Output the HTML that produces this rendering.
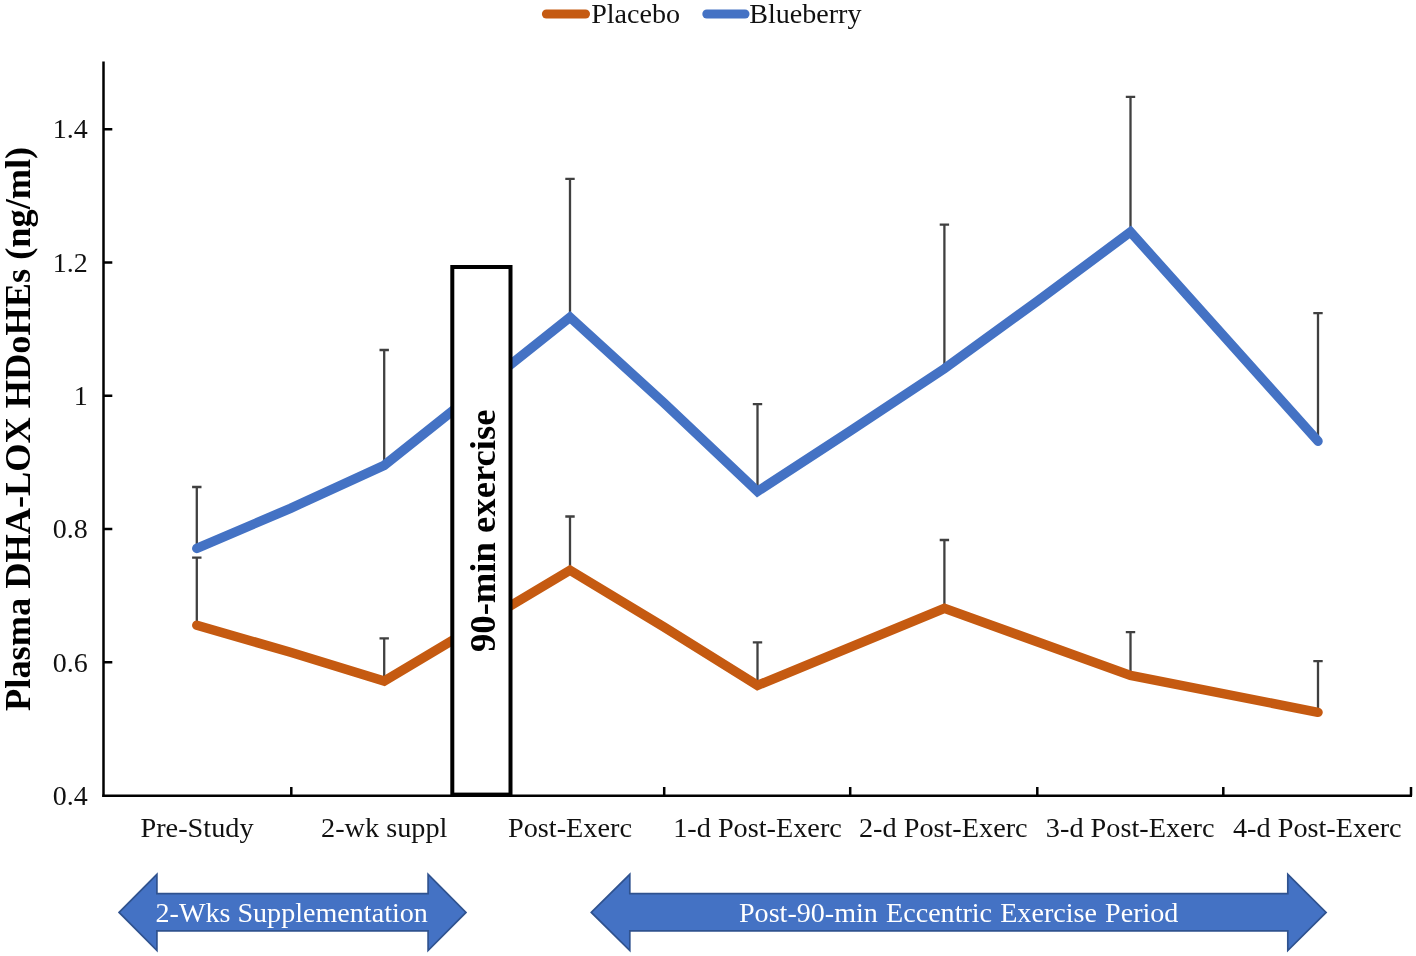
<!DOCTYPE html>
<html>
<head>
<meta charset="utf-8">
<title>Plasma DHA-LOX HDoHEs</title>
<style>
  html, body { margin: 0; padding: 0; background: #ffffff; }
  body { width: 1416px; height: 956px; overflow: hidden; font-family: "Liberation Serif", serif; }
  svg { display: block; will-change: transform; }
  text { font-family: "Liberation Serif", serif; }
</style>
</head>
<body>
<svg width="1416" height="956" viewBox="0 0 1416 956">
  <rect x="0" y="0" width="1416" height="956" fill="#ffffff"/>

  <!-- legend -->
  <g id="legend">
    <line x1="546.4" y1="14" x2="585.5" y2="14" stroke="#C55A11" stroke-width="9" stroke-linecap="round"/>
    <text x="591.2" y="22.8" font-size="28.1" fill="#111">Placebo</text>
    <line x1="706.8" y1="14" x2="745" y2="14" stroke="#4472C4" stroke-width="9" stroke-linecap="round"/>
    <text x="749.2" y="22.8" font-size="28.1" fill="#111">Blueberry</text>
  </g>

  <!-- y axis title -->
  <text transform="translate(30.0,710.9) rotate(-90)" font-size="36.34" font-weight="bold" fill="#000">Plasma DHA-LOX HDoHEs (ng/ml)</text>

  <!-- y tick labels -->
  <g font-size="28" fill="#111" text-anchor="end">
    <text x="87.7" y="138.4">1.4</text>
    <text x="87.7" y="271.7">1.2</text>
    <text x="87.7" y="405">1</text>
    <text x="87.7" y="538.2">0.8</text>
    <text x="87.7" y="671.5">0.6</text>
    <text x="87.7" y="804.8">0.4</text>
  </g>

  <!-- error bars -->
  <g id="errbars" stroke="#404040" stroke-width="2.3" fill="none">
    <!-- blueberry -->
    <path d="M196.8 548 V487 M192.1 487 H201.5"/>
    <path d="M384.2 465 V350 M379.5 350 H388.9"/>
    <path d="M570 317 V178.8 M565.3 178.8 H574.7"/>
    <path d="M757.5 491 V404.2 M752.8 404.2 H762.2"/>
    <path d="M944.4 368 V224.7 M939.7 224.7 H949.1"/>
    <path d="M1130.5 232 V96.9 M1125.8 96.9 H1135.2"/>
    <path d="M1318 440 V313.2 M1313.3 313.2 H1322.7"/>
    <!-- placebo -->
    <path d="M196.8 625 V557.6 M192.1 557.6 H201.5"/>
    <path d="M384.2 681 V638.3 M379.5 638.3 H388.9"/>
    <path d="M570 570 V516.5 M565.3 516.5 H574.7"/>
    <path d="M757.5 685 V642.4 M752.8 642.4 H762.2"/>
    <path d="M944.4 608 V540 M939.7 540 H949.1"/>
    <path d="M1130.5 675 V632.2 M1125.8 632.2 H1135.2"/>
    <path d="M1318 712 V661.2 M1313.3 661.2 H1322.7"/>
  </g>

  <!-- data lines -->
  <polyline fill="none" stroke="#4472C4" stroke-width="9.5" stroke-linecap="round" stroke-linejoin="miter"
    points="196.8,548.4 290.5,508.3 384.2,465.3 570,317.3 663.75,402.7 757.5,491.4 850.95,430.4 944.4,368.6 1037.45,301.1 1130.5,232 1318,441.2"/>
  <polyline fill="none" stroke="#C55A11" stroke-width="9.5" stroke-linecap="round" stroke-linejoin="miter"
    points="196.8,625.2 290.5,652.3 384.2,681.1 570,570.2 663.75,626.9 757.5,685.4 944.4,608.3 1130.5,675.5 1318,712.3"/>

  <!-- axes -->
  <g id="axes" stroke="#000" fill="none">
    <path d="M103.5 61.5 V796.9" stroke-width="2.5"/>
    <path d="M102.3 795.7 H1412" stroke-width="2.4"/>
    <!-- y ticks -->
    <path stroke-width="2.4" d="M103.5 129.2 H112.3 M103.5 262.5 H112.3 M103.5 395.8 H112.3 M103.5 529 H112.3 M103.5 662.3 H112.3"/>
    <!-- x ticks -->
    <path stroke-width="2.5" d="M291.3 795.7 V787 M477.6 795.7 V787 M664.2 795.7 V787 M850.2 795.7 V787 M1037.3 795.7 V787 M1223.3 795.7 V787 M1411 795.7 V787"/>
  </g>

  <!-- exercise box -->
  <rect x="452.3" y="267" width="58.2" height="527.6" fill="#ffffff" stroke="#000" stroke-width="4"/>
  <text transform="translate(494.5,652) rotate(-90)" font-size="36.65" font-weight="bold" fill="#000">90-min exercise</text>

  <!-- x tick labels -->
  <g font-size="28.25" fill="#111" text-anchor="middle">
    <text x="197" y="837.3">Pre-Study</text>
    <text x="384.2" y="837.3">2-wk suppl</text>
    <text x="570" y="837.3">Post-Exerc</text>
    <text x="757.5" y="837.3">1-d Post-Exerc</text>
    <text x="943.3" y="837.3">2-d Post-Exerc</text>
    <text x="1130.2" y="837.3">3-d Post-Exerc</text>
    <text x="1317.3" y="837.3">4-d Post-Exerc</text>
  </g>

  <!-- arrows -->
  <g stroke="#2F528F" stroke-width="1.7" fill="#4472C4" stroke-linejoin="miter">
    <path d="M119.1 912.4 L156.9 874.4 V893.7 H428.1 V874.4 L466 912.4 L428.1 950.5 V930.8 H156.9 V950.5 Z"/>
    <path d="M591.3 912.4 L629.8 874.4 V893.7 H1287.8 V874.4 L1326.1 912.4 L1287.8 950.5 V930.8 H629.8 V950.5 Z"/>
  </g>
  <g font-size="28.1" fill="#ffffff" text-anchor="middle">
    <text x="291.7" y="922.1">2-Wks Supplementation</text>
    <text x="958.7" y="922.1" word-spacing="1.1">Post-90-min Eccentric Exercise Period</text>
  </g>
</svg>
</body>
</html>
